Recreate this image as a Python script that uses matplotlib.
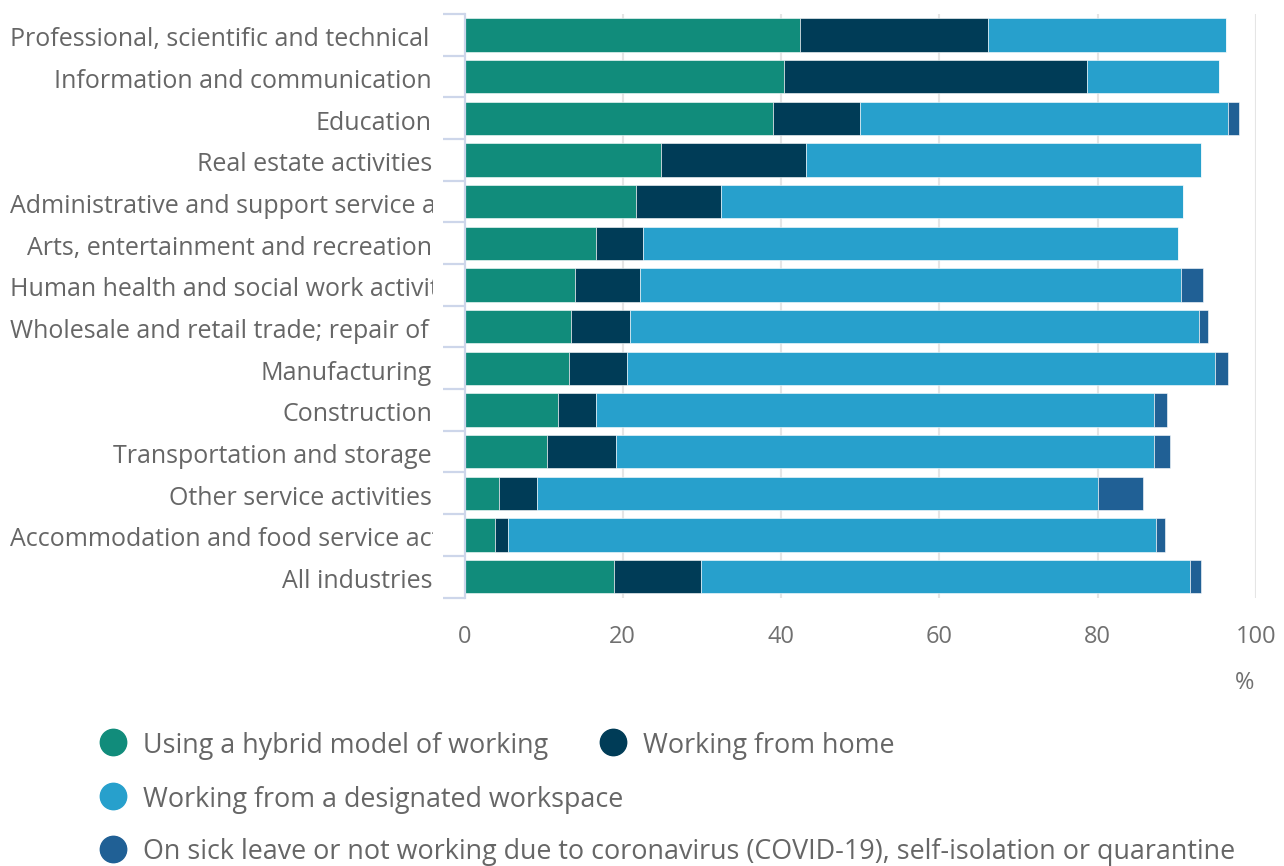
import numpy as np
import matplotlib
matplotlib.use("Agg")
import matplotlib.pyplot as plt
from matplotlib.lines import Line2D
from matplotlib.transforms import Bbox, TransformedBbox, blended_transform_factory, offset_copy

plt.rcParams['font.family'] = ['Open Sans', 'DejaVu Sans']

industries = [
    "Professional, scientific and technical activities",
    "Information and communication",
    "Education",
    "Real estate activities",
    "Administrative and support service activities",
    "Arts, entertainment and recreation",
    "Human health and social work activities",
    "Wholesale and retail trade; repair of motor vehicles and motorcycles",
    "Manufacturing",
    "Construction",
    "Transportation and storage",
    "Other service activities",
    "Accommodation and food service activities",
    "All industries",
]

hybrid = np.array([42.4, 40.4, 39.0, 24.8, 21.7, 16.6, 14.0, 13.4, 13.2, 11.8, 10.4, 4.4, 3.9, 18.9])
home = np.array([23.8, 38.2, 11.0, 18.4, 10.7, 5.9, 8.2, 7.5, 7.3, 4.8, 8.7, 4.8, 1.6, 11.0])
workspace = np.array([30.0, 16.7, 46.5, 49.8, 58.4, 67.7, 68.3, 71.9, 74.3, 70.5, 68.0, 70.9, 81.9, 61.7])
sick = np.array([0.0, 0.0, 1.4, 0.0, 0.0, 0.0, 2.8, 1.1, 1.6, 1.7, 2.0, 5.6, 1.1, 1.4])

series = [
    ("Using a hybrid model of working", hybrid, "#118c7b"),
    ("Working from home", home, "#003c57"),
    ("Working from a designated workspace", workspace, "#27a0cc"),
    ("On sick leave or not working due to coronavirus (COVID-19), self-isolation or quarantine", sick, "#206095"),
]

W, H = 1284, 866
fig = plt.figure(figsize=(W / 100, H / 100), dpi=100)
ax = fig.add_axes([464.5 / W, (H - 597.5) / H, (1256 - 464.5) / W, (597.5 - 14) / H])

y = np.arange(len(industries))
left = np.zeros(len(industries))
for name, vals, color in series:
    ax.barh(y, vals, left=left, height=0.8, color=color, edgecolor="#ffffff",
            linewidth=0.4, zorder=3)
    left = left + vals

ax.set_xlim(0, 100)
ax.set_ylim(len(industries) - 0.5, -0.5)
ax.set_xticks([0, 20, 40, 60, 80, 100])
ax.tick_params(axis="x", length=0, pad=20, labelsize=17, labelcolor="#707070")
ax.set_yticks([])
ax.set_yticks(np.arange(len(industries) + 1) - 0.5, minor=True)
ax.tick_params(axis="y", which="minor", length=16, width=1.6, color="#cdd6ea")
ax.grid(axis="x", color="#e5e5e5", linewidth=1.5, zorder=0)
for x0 in ax.get_xgridlines()[:1]:
    x0.set_visible(False)
for side in ("top", "right", "bottom"):
    ax.spines[side].set_visible(False)
ax.spines["left"].set_color("#cdd6ea")
ax.spines["left"].set_linewidth(1.6)
ax.spines["left"].set_zorder(4)

fig.text(1254 / W, (H - 680) / H, "%", ha="right", va="center_baseline", fontsize=17, color="#707070")

# category labels: right aligned, long ones start at the left edge and get cut off
renderer = fig.canvas.get_renderer()
tr = offset_copy(blended_transform_factory(fig.transFigure, ax.transData),
                 fig=fig, y=-2, units="dots")
clip = TransformedBbox(Bbox([[0, 0], [433 / W, 1]]), fig.transFigure)
for yi, name in zip(y, industries):
    t = fig.text(432 / W, yi, name, transform=tr, ha="right", va="center_baseline",
                 fontsize=18, color="#666666")
    bb = t.get_window_extent(renderer)
    if bb.x0 < 10:
        t.set_ha("left")
        t.set_x(10 / W)
        t.set_clip_box(clip)
        t.set_clip_on(True)

# legend laid out in rows
legend_pos = [(113, 742), (613, 742), (113, 796), (113, 849)]
for (name, vals, color), (lx, ly) in zip(series, legend_pos):
    fig.add_artist(Line2D([lx / W], [(H - ly) / H], marker="o", markersize=19,
                          color=color, linestyle="none", transform=fig.transFigure))
    fig.text((lx + 30) / W, (H - ly) / H, name, ha="left", va="center_baseline",
             fontsize=19.4, color="#666666")

fig.savefig("out.png", dpi=100)
